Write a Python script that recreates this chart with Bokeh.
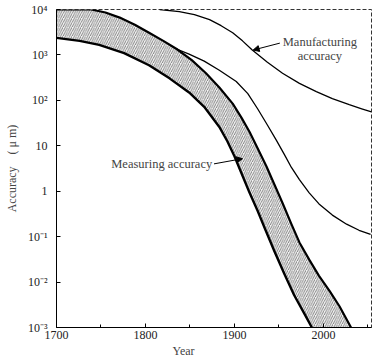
from bokeh.plotting import figure
from bokeh.models import FixedTicker, CustomJSTickFormatter, Label, Arrow, NormalHead, Title
from bokeh.embed import file_html
from bokeh.resources import INLINE

# ---- data (accuracy in micrometres) ----
band_low_year = [1700, 1726, 1748, 1776, 1804, 1827, 1849, 1866, 1883, 1892, 1900, 1908,
                 1917, 1926, 1935, 1945, 1956, 1967, 1979, 1987]
band_low_acc = [2380, 2040, 1660, 1100, 594, 305, 149, 72, 26, 12.6, 5.9, 2.45,
                0.92, 0.37, 0.138, 0.047, 0.0152, 0.0052, 0.00195, 0.001]

band_up_year = [1700, 1739, 1755, 1771, 1788, 1804, 1820, 1835, 1852, 1868, 1883, 1898,
                1908, 1917, 1926, 1936, 1945, 1954, 1964, 1973, 1984, 1995, 2007, 2018, 2031]
band_up_acc = [10000, 10000, 8570, 6630, 4630, 3070, 2040, 1350, 768, 394, 192, 84.6,
               41.2, 20.1, 8.83, 3.5, 1.39, 0.552, 0.188, 0.0746, 0.0312, 0.0137, 0.00635,
               0.00294, 0.001]

mid_year = [1835, 1849, 1866, 1883, 1902, 1915, 1926, 1937, 1947, 1956, 1964, 1973,
            1984, 1995, 2010, 2026, 2040, 2053]
mid_acc = [1350, 1045, 730, 460, 261, 141, 65.3, 28.7, 13.3, 6.49, 3.33, 1.80,
           0.92, 0.525, 0.298, 0.188, 0.138, 0.112]

manu_year = [1816, 1838, 1855, 1872, 1885, 1898, 1909, 1920, 1937, 1954, 1973, 1992,
             2010, 2029, 2043, 2054]
manu_acc = [10000, 9020, 7740, 5990, 4400, 3070, 2040, 1280, 693, 394, 236, 156,
            109, 80.3, 65.3, 56.1]

x_ticks = [1700, 1800, 1900, 2000]
x_minor = [1750, 1850, 1950, 2050]
y_ticks = [0.001, 0.01, 0.1, 1, 10, 100, 1000, 10000]
y_tick_labels = ["10\u207b\u00b3", "10\u207b\u00b2", "10\u207b\u00b9", "1", "10",
                 "10\u00b2", "10\u00b3", "10\u2074"]

FONT = "Liberation Serif"

p = figure(width=372, height=357, output_backend="svg", toolbar_location=None,
           x_range=(1700, 2054), y_range=(0.001, 10000), y_axis_type="log",
           min_border_left=56, min_border_top=9, min_border_right=1, min_border_bottom=10)

p.background_fill_color = "white"
p.border_fill_color = "white"
p.xgrid.visible = False
p.ygrid.visible = False
p.outline_line_color = "#333333"
p.outline_line_dash = "4 2"
p.outline_line_width = 1

# band (measuring accuracy)
bx = band_up_year + band_low_year[::-1]
by = band_up_acc + band_low_acc[::-1]
p.patch(bx, by, fill_color="#f4f4f4", line_color=None,
        hatch_pattern="/", hatch_color="#333333", hatch_scale=4.5, hatch_weight=0.7, hatch_alpha=0.85)
p.line(band_up_year, band_up_acc, line_color="black", line_width=2.2, line_join="round")
p.line(band_low_year, band_low_acc, line_color="black", line_width=2.4, line_join="round")

# thin curves
p.line(mid_year, mid_acc, line_color="black", line_width=1.3, line_join="round")
p.line(manu_year, manu_acc, line_color="black", line_width=1.3, line_join="round")

# axes
for ax in (p.xaxis[0], p.yaxis[0]):
    ax.axis_line_color = "black"
    ax.axis_line_width = 1
    ax.major_tick_in = 4
    ax.major_tick_out = 0
    ax.minor_tick_in = 3
    ax.minor_tick_out = 0
    ax.major_label_text_font = FONT
    ax.major_label_text_font_size = "12px"
    ax.major_label_text_color = "#222222"
    ax.axis_label_text_font = FONT
    ax.axis_label_text_font_style = "normal"
    ax.axis_label_text_font_size = "12px"

p.xaxis.ticker = FixedTicker(ticks=x_ticks, minor_ticks=x_minor)
p.xaxis.major_label_standoff = 3
p.yaxis.ticker = FixedTicker(ticks=y_ticks, minor_ticks=[])
p.yaxis.formatter = CustomJSTickFormatter(args=dict(labels=y_tick_labels),
                                          code="const e = Math.round(Math.log10(tick)); return labels[e + 3];")
p.yaxis.major_label_standoff = 9
p.yaxis.axis_label = "Accuracy\u00a0\u00a0\u00a0\u00a0(\u00a0\u03bc\u00a0m)"
p.yaxis.axis_label_standoff = 6

p.add_layout(Title(text="Year", align="left", offset=116, standoff=0,
                   text_font=FONT, text_font_size="12px", text_font_style="normal"), "below")

# annotations
p.add_layout(Label(x=1996, y=1950, text="Manufacturing", text_align="center",
                   text_baseline="middle", text_font=FONT, text_font_size="12.5px"))
p.add_layout(Label(x=1996, y=930, text="accuracy", text_align="center",
                   text_baseline="middle", text_font=FONT, text_font_size="12.5px"))
p.add_layout(Arrow(end=NormalHead(size=6, fill_color="black", line_color="black"),
                   x_start=1951, y_start=1820, x_end=1921, y_end=1280, line_width=1))

p.add_layout(Label(x=1875, y=4.0, text="Measuring accuracy", text_align="right",
                   text_baseline="middle", text_font=FONT, text_font_size="12.5px"))
p.add_layout(Arrow(end=NormalHead(size=6, fill_color="black", line_color="black"),
                   x_start=1877, y_start=4.0, x_end=1909, y_end=5.2, line_width=1))

open("out.html", "w").write(file_html(p, INLINE))
